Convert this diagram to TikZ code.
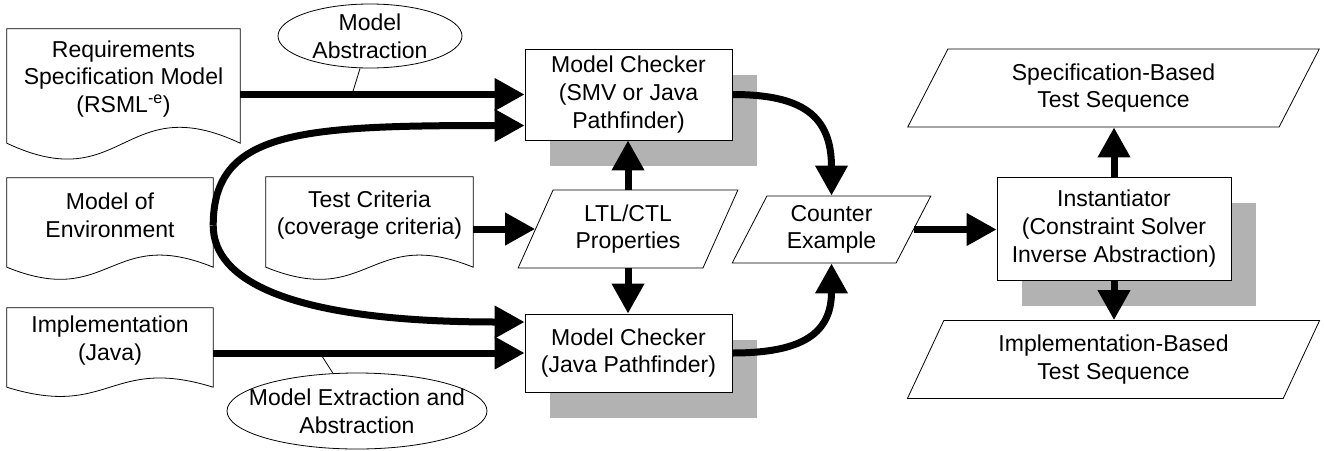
\documentclass[tikz,border=0pt]{standalone}
\usepackage{fontspec}
\setmainfont{Liberation Sans}
\usepackage{tikz}
\usetikzlibrary{arrows.meta, shapes.geometric, shadows, positioning}
\definecolor{shadowgray}{RGB}{178,178,178}

% document symbol: straight top and sides, wavy bottom edge (#2 = bulge of the wave)
\newcommand{\docshape}[2]{%
  \draw[outline] (#1.north west) -- (#1.north east) -- ([yshift=-14pt]#1.south east)
    .. controls ([yshift=#2pt-14pt]#1.south) and ([yshift=-#2pt-14pt]#1.south) .. ([yshift=-14pt]#1.south west) -- cycle;}

\begin{document}
\begin{tikzpicture}[
    x=1pt, y=-1pt,
    font=\fontsize{23}{27.6}\selectfont,
    outline/.style={draw, line width=0.8pt},
    doc/.style={rectangle, align=center, inner sep=0pt},
    process/.style={rectangle, outline, fill=white, align=center, inner sep=0pt,
        drop shadow={shadow xshift=25pt, shadow yshift=-26pt, fill=shadowgray, opacity=1}},
    data/.style={trapezium, trapezium left angle=64, trapezium right angle=116, trapezium stretches=true,
        outline, fill=white, align=center, inner sep=1pt},
    note/.style={ellipse, outline, fill=white, align=center, inner sep=-20pt},
    flow/.style={-{Triangle[length=30pt, width=31pt]}, line width=7pt},
    leader/.style={line width=0.8pt}
]
    \useasboundingbox (0,0) rectangle (1324,450);

    % Inputs (document symbols)
    \node[doc, minimum width=233pt, minimum height=100pt] (req) at (123.5,79) {Requirements\\Specification Model\\(RSML\textsuperscript{-e})};
    \node[doc, minimum width=206pt, minimum height=75pt] (env) at (110,215.5) {Model of\\Environment};
    \node[doc, minimum width=207pt, minimum height=76pt] (crit) at (369.5,215) {Test Criteria\\(coverage criteria)};
    \node[doc, minimum width=206pt, minimum height=65pt] (impl) at (110,340.5) {Implementation\\(Java)};
    \docshape{req}{55}
    \docshape{env}{42}
    \docshape{crit}{42}
    \docshape{impl}{32}

    % Model checkers and properties
    \node[process, minimum width=207pt, minimum height=91pt] (mc1) at (628.5,94.5) {Model Checker\\(SMV or Java\\Pathfinder)};
    \node[process, minimum width=207pt, minimum height=78pt] (mc2) at (628.5,353) {Model Checker\\(Java Pathfinder)};
    \node[data, minimum width=220pt, minimum height=78pt] (props) at (628,229) {LTL/CTL\\Properties};
    \node[data, minimum width=199pt, minimum height=67pt] (cex) at (831.5,229.5) {Counter\\Example};

    % Instantiator and generated test sequences
    \node[process, minimum width=234pt, minimum height=103pt] (inst) at (1114,228.5) {Instantiator\\(Constraint Solver\\Inverse Abstraction)};
    \node[data, minimum width=413pt, minimum height=78pt] (specseq) at (1113.5,88) {Specification-Based\\Test Sequence};
    \node[data, minimum width=413pt, minimum height=78pt] (implseq) at (1113.5,359.5) {Implementation-Based\\Test Sequence};

    % Annotations on the abstraction steps
    \node[note, minimum width=184pt, minimum height=64pt] (abs) at (370,36) {Model\\Abstraction};
    \node[note, minimum width=260pt, minimum height=76pt] (extr) at (357,411) {Model Extraction and\\Abstraction};
    \coordinate (abstap) at (352,94.5);
    \coordinate (extrtap) at (320,353);
    \draw[leader] (abs) -- (abstap);
    \draw[leader] (extr) -- (extrtap);

    % Flows into the checkers
    \coordinate (envtap) at ([yshift=-10pt]env.east);
    \draw[flow] (req.east |- mc1.west) -- (mc1.west);
    \draw[flow] (envtap) .. controls +(0,-95) and +(-225,0) .. ([yshift=-31pt]mc1.west);
    \draw[flow] (envtap) .. controls +(0,55) and +(-235,0) .. ([yshift=31pt]mc2.west);
    \draw[flow] (impl.east |- mc2.west) -- (mc2.west);
    \draw[flow] (crit.east |- props.west) -- (props.west);
    \draw[flow] (props.north) -- (props.north |- mc1.south);
    \draw[flow] (props.south) -- (props.south |- mc2.north);

    % Counter example and test generation
    \draw[flow] (mc1.east) .. controls +(70,0) and +(0,-80) .. (cex.north);
    \draw[flow] (mc2.east) .. controls +(70,0) and +(0,70) .. (cex.south);
    \draw[flow] (cex.east) -- (cex.east -| inst.west);
    \draw[flow] (inst.north) -- (inst.north |- specseq.south);
    \draw[flow] (inst.south) -- (inst.south |- implseq.north);
\end{tikzpicture}
\end{document}
